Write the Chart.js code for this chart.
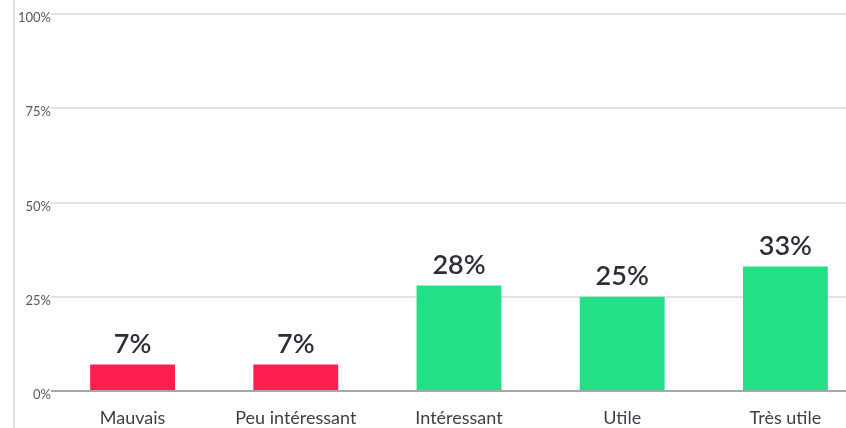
<!DOCTYPE html>
<html>
<head>
<meta charset="utf-8">
<script src="https://cdn.jsdelivr.net/npm/chart.js@4"></script>
<style>
  html, body { margin: 0; padding: 0; background: #fff; overflow: hidden; }
  #wrap { position: relative; width: 870px; height: 428px; }
  #ligne { position: absolute; left: 13px; top: 0; width: 2px; height: 428px; background: #e2e2e6; }
</style>
</head>
<body>
<div id="wrap">
  <div id="ligne"></div>
  <canvas id="avis"></canvas>
</div>
<script>
// categories et valeurs (en %)
const categories = ['Mauvais', 'Peu intéressant', 'Intéressant', 'Utile', 'Très utile'];
const valeurs = [7, 7, 28, 25, 33];
const couleurs = ['#ff1f4e', '#ff1f4e', '#23df86', '#23df86', '#23df86'];
const ticksY = [0, 25, 50, 75, 100];

// dessine le % au dessus de chaque barre
const etiquettes = {
    id: 'etiquettes',
    afterDatasetsDraw(chart) {
        const ctx = chart.ctx;
        const meta = chart.getDatasetMeta(0);
        ctx.save();
        ctx.font = '600 27px Lato';
        ctx.fillStyle = '#2c2f3b';
        ctx.textAlign = 'center';
        ctx.textBaseline = 'bottom';
        meta.data.forEach((bar, i) => {
            ctx.fillText(valeurs[i] + '%', bar.x, bar.y - 7);
        });
        ctx.restore();
    }
};

(() => {
    const graph = document.getElementById('avis');
    graph.width = 870;
    graph.height = 428;
    window.myChart = new Chart(graph, {
        type: 'bar',
        data: {
            labels: categories,
            datasets: [{
                data: valeurs,
                backgroundColor: couleurs,
                categoryPercentage: 1,
                barPercentage: 0.52
            }]
        },
        options: {
            responsive: false,
            animation: false,
            layout: { padding: { top: 14, right: 3, left: 0, bottom: 0 } },
            plugins: { legend: { display: false }, tooltip: { enabled: false } },
            scales: {
                x: {
                    afterFit: (scale) => { scale.height = 37; },
                    grid: { display: false, drawTicks: false },
                    border: { display: false },
                    ticks: {
                        color: '#3d3f48',
                        font: { family: 'Lato', size: 18 },
                        padding: 16
                    }
                },
                y: {
                    min: 0,
                    max: 100,
                    afterBuildTicks: (scale) => { scale.ticks = ticksY.map(v => ({ value: v })); },
                    afterFit: (scale) => { scale.width = 51; },
                    border: { display: false },
                    grid: {
                        drawTicks: false,
                        color: (c) => c.tick.value === 0 ? '#a6a6ae' : '#e2e2e8',
                        lineWidth: 2
                    },
                    ticks: {
                        color: '#555766',
                        font: { family: 'Lato', size: 13 },
                        padding: 0,
                        labelOffset: 4,
                        callback: (v) => v + '%'
                    }
                }
            }
        },
        plugins: [etiquettes]
    });
})();
</script>
</body>
</html>
